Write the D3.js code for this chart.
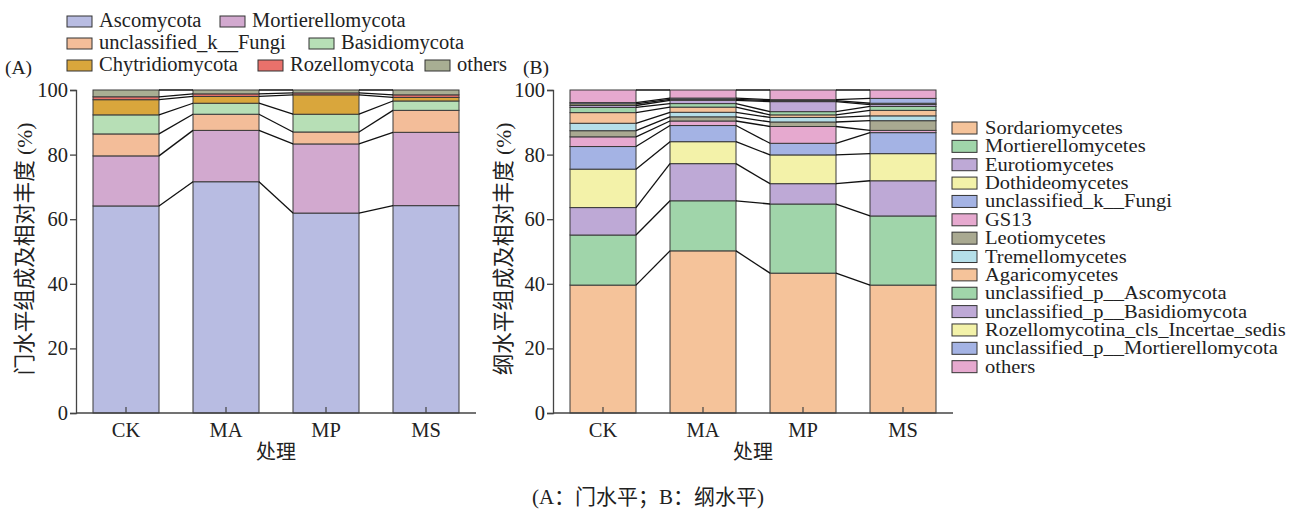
<!DOCTYPE html>
<html><head><meta charset="utf-8">
<script src="https://cdn.jsdelivr.net/npm/d3@7"></script>
<style>
body{margin:0;background:#fff;}
svg text{font-family:"Liberation Serif","Times New Roman","Noto Sans CJK SC",serif;fill:#222;}
.cjk{font-family:"Liberation Serif","Noto Sans CJK SC",serif;}
</style></head>
<body>
<svg id="c" width="1305" height="510"></svg>
<script>
const groups = ["CK","MA","MP","MS"];
const yTicks = [0,20,40,60,80,100];

// Panel A: phylum level
const phylaNames = ["Ascomycota","Mortierellomycota","unclassified_k__Fungi","Basidiomycota","Chytridiomycota","Rozellomycota","others"];
const phylaColors = ["#b8bce2","#d2a9cf","#f3bd99","#b7dfb6","#d9a63c","#e9716b","#a8ae93"];
const phylaCK = [64.1,15.5,6.8,5.9,4.7,0.9,2.1];
const phylaMA = [71.6,15.9,5.0,3.4,2.1,0.8,1.2];
const phylaMP = [61.9,21.4,3.7,5.5,6.0,0.6,0.9];
const phylaMS = [64.2,22.7,6.8,2.9,1.1,0.8,1.5];

// Panel B: class level
const classNames = ["Sordariomycetes","Mortierellomycetes","Eurotiomycetes","Dothideomycetes","unclassified_k__Fungi","GS13","Leotiomycetes","Tremellomycetes","Agaricomycetes","unclassified_p__Ascomycota","unclassified_p__Basidiomycota","Rozellomycotina_cls_Incertae_sedis","unclassified_p__Mortierellomycota","others"];
const classColors = ["#f5c39a","#a0d5aa","#bea9d6","#f3f2a9","#a4b3e4","#e6a9cf","#a9a991","#b5dfe9","#f5c39a","#a0d5aa","#bea9d6","#f3f2a9","#a4b3e4","#e6a9cf"];
const classCK = [39.6,15.5,8.5,11.9,7.0,3.0,1.9,2.3,3.3,1.6,0.6,0.5,0.4,3.9];
const classMA = [50.2,15.5,11.5,6.8,5.0,1.4,1.3,1.4,1.6,1.1,1.0,0.3,0.4,2.5];
const classMP = [43.3,21.4,6.3,8.9,3.6,5.2,1.4,1.4,0.8,1.0,3.1,0.3,0.3,3.0];
const classMS = [39.6,21.4,10.9,8.4,6.5,0.7,3.0,1.5,1.7,1.2,0.6,0.4,1.5,2.6];

const svg = d3.select("#c");

function panel(o){
  const g = svg.append("g");
  const x = d3.scaleBand().domain(groups).range(o.xr).paddingInner(0.34).paddingOuter(0.17);
  const y = d3.scaleLinear().domain([0,100]).range([413,90]);
  const rows = groups.map((k,i)=>{const r={group:k}; o.names.forEach((n,j)=>r[n]=o.vals[i][j]); return r;});
  const stack = d3.stack().keys(o.names)(rows);
  const bw = x.bandwidth();
  stack.forEach((s,j)=>{
    g.selectAll(null).data(s).enter().append("rect")
      .attr("x",d=>x(d.data.group)).attr("width",bw)
      .attr("y",d=>y(d[1])).attr("height",d=>y(d[0])-y(d[1]))
      .attr("fill",o.colors[j]).attr("stroke","#3a3a3a").attr("stroke-width",1);
  });
  stack.forEach((s)=>{
    for(let i=0;i<groups.length-1;i++){
      g.append("line")
        .attr("x1",x(groups[i])+bw).attr("y1",y(s[i][1]))
        .attr("x2",x(groups[i+1])).attr("y2",y(s[i+1][1]))
        .attr("stroke","#111").attr("stroke-width",1.3);
    }
  });
  const ax = g.append("g").attr("transform",`translate(${o.xr[0]},0)`).call(d3.axisLeft(y).tickValues(yTicks).tickSize(6).tickPadding(2));
  ax.selectAll("text").attr("font-size",20.5);
  ax.select(".domain").attr("stroke","#444").attr("stroke-width",1.3);
  ax.selectAll(".tick line").attr("stroke","#444").attr("stroke-width",1.3);
  const bx = g.append("g").attr("transform","translate(0,413)").call(d3.axisBottom(x).tickSize(0).tickPadding(9));
  bx.select(".domain").attr("d",`M${o.xr[0]},0H${o.xr[1]}`).attr("stroke","#444").attr("stroke-width",1.3);
  bx.selectAll("text").attr("font-size",20.5);
  groups.forEach(k=>{
    g.append("line").attr("x1",x(k)+bw/2).attr("x2",x(k)+bw/2).attr("y1",413).attr("y2",407).attr("stroke","#444").attr("stroke-width",1.2);
  });
  g.append("text").attr("class","cjk").attr("transform",`translate(${o.ytx},249) rotate(-90)`).attr("text-anchor","middle").attr("font-size",21.5).text(o.ytitle);
  g.append("text").attr("class","cjk").attr("x",(o.xr[0]+o.xr[1])/2).attr("y",459).attr("text-anchor","middle").attr("font-size",20).text("处理");
  g.append("text").attr("x",o.labx).attr("y",74).attr("font-size",19.5).text(o.label);
}

panel({xr:[76,476],names:phylaNames,colors:phylaColors,vals:[phylaCK,phylaMA,phylaMP,phylaMS],ytitle:"门水平组成及相对丰度 (%)",ytx:32,label:"(A)",labx:5});
panel({xr:[553,953],names:classNames,colors:classColors,vals:[classCK,classMA,classMP,classMS],ytitle:"纲水平组成及相对丰度 (%)",ytx:511,label:"(B)",labx:523});

const legA = [[0,67,21],[1,220,21],[2,67,43],[3,309,43],[4,67,65],[5,258,65],[6,425,65]];
legA.forEach(([j,lx,ly])=>{
  svg.append("rect").attr("x",lx).attr("y",ly-5).attr("width",25).attr("height",11).attr("fill",phylaColors[j]).attr("stroke","#333").attr("stroke-width",1);
  svg.append("text").attr("x",lx+32).attr("y",ly+6).attr("font-size",20.5).text(phylaNames[j]);
});
const legB = svg.append("g");
classNames.forEach((n,j)=>{
  const ly = 128 + j*18.36;
  legB.append("rect").attr("x",952).attr("y",ly-6).attr("width",25).attr("height",12).attr("fill",classColors[j]).attr("stroke","#333").attr("stroke-width",1);
  legB.append("text").attr("transform",`translate(985,${ly+6}) scale(1.08,1)`).attr("font-size",19).text(n);
});
svg.append("text").attr("class","cjk").attr("x",648).attr("y",504).attr("text-anchor","middle").attr("font-size",21).text("(A：门水平；B：纲水平)");
</script>
</body></html>
